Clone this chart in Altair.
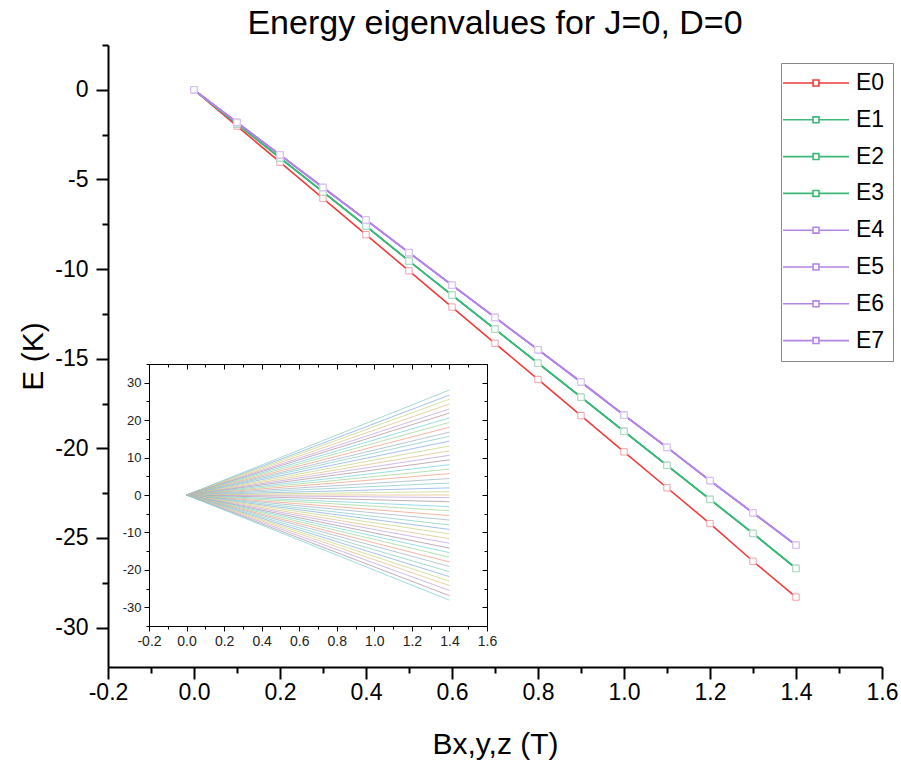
import altair as alt
import pandas as pd

# ---------------- data ----------------
B = [0.0, 0.1, 0.2, 0.3, 0.4, 0.5, 0.6, 0.7, 0.8, 0.9, 1.0, 1.1, 1.2, 1.3, 1.4]
E0 = [0.0, -2.02, -4.04, -6.06, -8.08, -10.1, -12.12, -14.14, -16.16, -18.18, -20.2, -22.2, -24.2, -26.3, -28.3]
E1 = [0.0, -1.9, -3.8, -5.7, -7.6, -9.55, -11.45, -13.35, -15.25, -17.15, -19.05, -20.95, -22.85, -24.75, -26.7]
E2 = [0.0, -1.9, -3.8, -5.7, -7.6, -9.55, -11.45, -13.35, -15.25, -17.15, -19.05, -20.95, -22.85, -24.75, -26.7]
E3 = [0.0, -1.9, -3.8, -5.7, -7.6, -9.55, -11.45, -13.35, -15.25, -17.15, -19.05, -20.95, -22.85, -24.75, -26.7]
E4 = [0.0, -1.82, -3.63, -5.45, -7.26, -9.08, -10.9, -12.7, -14.5, -16.3, -18.15, -19.95, -21.8, -23.6, -25.4]
E5 = [0.0, -1.82, -3.63, -5.45, -7.26, -9.08, -10.9, -12.7, -14.5, -16.3, -18.15, -19.95, -21.8, -23.6, -25.4]
E6 = [0.0, -1.82, -3.63, -5.45, -7.26, -9.08, -10.9, -12.7, -14.5, -16.3, -18.15, -19.95, -21.8, -23.6, -25.4]
E7 = [0.0, -1.82, -3.63, -5.45, -7.26, -9.08, -10.9, -12.7, -14.5, -16.3, -18.15, -19.95, -21.8, -23.6, -25.4]
series_names = ["E0", "E1", "E2", "E3", "E4", "E5", "E6", "E7"]
series_values = [E0, E1, E2, E3, E4, E5, E6, E7]

# inset: fan of straight lines from (0, 0) to (1.4, end value)
inset_B = [0.0, 1.4]
inset_start = 0.0
inset_end = [28.05, 26.7, 25.6, 24.3, 23.0, 21.9, 20.6, 19.4, 18.1, 16.8, 15.7, 14.4,
             13.1, 11.8, 10.6, 9.4, 8.1, 6.9, 5.7, 4.4, 3.2, 1.9, 0.9, 0.0, -0.7,
             -1.8, -3.1, -4.2, -5.5, -6.7, -8.0, -9.2, -10.4, -11.7, -12.9, -14.2,
             -15.4, -16.6, -17.9, -19.1, -20.5, -21.8, -23.0, -24.2, -25.5, -26.9, -28.1]

x_ticks_main = [-0.2, -0.1, 0.0, 0.1, 0.2, 0.3, 0.4, 0.5, 0.6, 0.7, 0.8, 0.9, 1.0,
                1.1, 1.2, 1.3, 1.4, 1.5, 1.6]
y_ticks_main = [2.5, 0, -2.5, -5, -7.5, -10, -12.5, -15, -17.5, -20, -22.5, -25,
                -27.5, -30]
y_ticks_inset = [35, 30, 25, 20, 15, 10, 5, 0, -5, -10, -15, -20, -25, -30, -35]

# ---------------- styling ----------------
FONT = "Liberation Sans"
line_colors = ["#f03c3c", "#3cb878", "#3cb878", "#3cb878",
               "#b484e8", "#b484e8", "#b484e8", "#b484e8"]
marker_colors = ["#f2a0a8", "#f0a8a8", "#a8dcc0", "#a8dcc0",
                 "#d6bff2", "#d6bff2", "#d6bff2", "#d6bff2"]
pastel = ["#8ecfc9", "#8fb4e3", "#c9d98a", "#e3c48f", "#c5a9e0",
          "#b39aa8", "#7fd6dc", "#a8d89c", "#f0a58a", "#a9b8c8"]

W, H = 774, 622
INSET_X = [41, 379]
INSET_Y = [581, 319]
MINUS = "\u2212"

# ---------------- tables ----------------
main_rows = []
for name, vals in zip(series_names, series_values):
    for b, e in zip(B, vals):
        main_rows.append({"B": b, "E": e, "series": name})
main_df = pd.DataFrame(main_rows)

inset_rows = []
for i, v in enumerate(inset_end):
    inset_rows.append({"B": inset_B[0], "E": inset_start, "line": i})
    inset_rows.append({"B": inset_B[1], "E": v, "line": i})
inset_df = pd.DataFrame(inset_rows)
inset_ids = list(range(len(inset_end)))
inset_colors = [pastel[i % len(pastel)] for i in inset_ids]

# ---------------- main layer ----------------
major_x = "round(datum.value*10) % 2 === 0"
major_y = "datum.value % 5 === 0"
fmt_x = f"replace(format(datum.value, '.1f'), '{MINUS}', '-')"
fmt_y = f"replace(format(datum.value, 'd'), '{MINUS}', '-')"
x_main = alt.X(
    "B:Q",
    scale=alt.Scale(domain=[-0.2, 1.6], nice=False, zero=False),
    axis=alt.Axis(
        orient="bottom", title="Bx,y,z (T)", values=x_ticks_main,
        labelExpr=f"{major_x} ? {fmt_x} : ''",
        tickSize={"condition": {"test": major_x, "value": 12}, "value": 6},
        tickWidth=2, domainWidth=2, domainColor="black", tickColor="black",
        labelFont=FONT, labelFontSize=23, labelColor="black", labelPadding=2,
        labelFlush=False, labelOverlap=False,
        titleFont=FONT, titleFontSize=30, titleFontWeight="normal", titleColor="black",
        titlePadding=25, grid=False,
    ),
)
y_main = alt.Y(
    "E:Q",
    scale=alt.Scale(domain=[-32.2, 2.5], nice=False, zero=False),
    axis=alt.Axis(
        orient="left", title="E (K)", values=y_ticks_main,
        labelExpr=f"{major_y} ? {fmt_y} : ''",
        tickSize={"condition": {"test": major_y, "value": 12}, "value": 6},
        tickWidth=2, domainWidth=2, domainColor="black", tickColor="black",
        labelFont=FONT, labelFontSize=23, labelColor="black", labelPadding=8,
        labelFlush=False, labelOverlap=False,
        titleFont=FONT, titleFontSize=30, titleFontWeight="normal", titleColor="black",
        titlePadding=6, grid=False,
    ),
)

legend_path = "M-3,0L-0.27,0M0.27,0L3,0M-0.27,-0.27L0.27,-0.27L0.27,0.27L-0.27,0.27Z"
main_lines = alt.Chart(main_df).mark_line(strokeWidth=1.6).encode(
    x=x_main,
    y=y_main,
    color=alt.Color(
        "series:N",
        scale=alt.Scale(domain=series_names, range=line_colors),
        legend=alt.Legend(
            title=None, orient="none", legendX=673, legendY=18,
            symbolType=legend_path, symbolSize=484, symbolStrokeWidth=1.6,
            symbolFillColor="white", symbolOffset=15,
            labelFont=FONT, labelFontSize=23, labelColor="black", labelOffset=28,
            rowPadding=12.8, padding=8, strokeColor="#888888", fillColor="white",
        ),
    ),
)
main_points = alt.Chart(main_df).mark_point(
    shape="square", size=40, filled=False, fill="white", fillOpacity=1,
    strokeWidth=1, opacity=1,
).encode(
    x="B:Q",
    y="E:Q",
    stroke=alt.Stroke("series:N",
                      scale=alt.Scale(domain=series_names, range=marker_colors),
                      legend=None),
)
main_layer = alt.layer(main_lines, main_points)

# ---------------- inset layers ----------------
inset_tick_x = "round(datum.value*10) % 2 === 0"
inset_tick_y = "datum.value % 10 === 0"
inset_lines = alt.Chart(inset_df).mark_line(strokeWidth=1, opacity=0.8).encode(
    x=alt.X("B:Q",
            scale=alt.Scale(domain=[-0.2, 1.6], range=INSET_X, nice=False, zero=False),
            axis=alt.Axis(orient="bottom", offset=-41, title=None, values=x_ticks_main,
                          labelExpr=f"{inset_tick_x} ? {fmt_x} : ''",
                          tickSize={"condition": {"test": inset_tick_x, "value": 5}, "value": 3},
                          domainColor="black", tickColor="black", domainWidth=1, tickWidth=1,
                          labelFont=FONT, labelFontSize=14, labelColor="#222222",
                          labelPadding=3, labelFlush=False, labelOverlap=False, grid=False)),
    y=alt.Y("E:Q",
            scale=alt.Scale(domain=[-35, 35], range=INSET_Y, nice=False, zero=False),
            axis=alt.Axis(orient="left", offset=-41, title=None, values=y_ticks_inset,
                          labelExpr=f"{inset_tick_y} && abs(datum.value) < 35 ? {fmt_y} : ''",
                          tickSize={"condition": {"test": inset_tick_y, "value": 5}, "value": 3},
                          domainColor="black", tickColor="black", domainWidth=1, tickWidth=1,
                          labelFont=FONT, labelFontSize=13, labelColor="#222222",
                          labelPadding=3, labelFlush=False, labelOverlap=False, grid=False)),
    color=alt.Color("line:N", scale=alt.Scale(domain=inset_ids, range=inset_colors), legend=None),
)
inset_frame = alt.Chart(inset_df).mark_line(opacity=0).encode(
    x=alt.X("B:Q",
            scale=alt.Scale(domain=[-0.2, 1.6], range=INSET_X, nice=False, zero=False),
            axis=alt.Axis(orient="bottom", offset=-303, title=None, values=x_ticks_main,
                          labels=False,
                          tickSize={"condition": {"test": inset_tick_x, "value": 5}, "value": 3},
                          domainColor="black", tickColor="black", domainWidth=1, tickWidth=1,
                          grid=False)),
    y=alt.Y("E:Q",
            scale=alt.Scale(domain=[-35, 35], range=INSET_Y, nice=False, zero=False),
            axis=alt.Axis(orient="left", offset=-379, title=None, values=y_ticks_inset,
                          labels=False,
                          tickSize={"condition": {"test": inset_tick_y, "value": 5}, "value": 3},
                          domainColor="black", tickColor="black", domainWidth=1, tickWidth=1,
                          grid=False)),
    detail="line:N",
)

chart = alt.layer(inset_lines, inset_frame, main_layer).resolve_scale(
    x="independent", y="independent", color="independent", stroke="independent"
).properties(
    width=W, height=H,
    title=alt.TitleParams("Energy eigenvalues for J=0, D=0", font=FONT, fontSize=34,
                          fontWeight="normal", color="black", anchor="middle",
                          frame="group", offset=12, dy=19),
    autosize=alt.AutoSizeParams(type="none"),
    padding={"left": 108, "top": 45, "right": 19, "bottom": 98},
    background="white",
).configure_view(stroke=None)

chart.save("out.html", embed_options={"renderer": "svg", "actions": False})
